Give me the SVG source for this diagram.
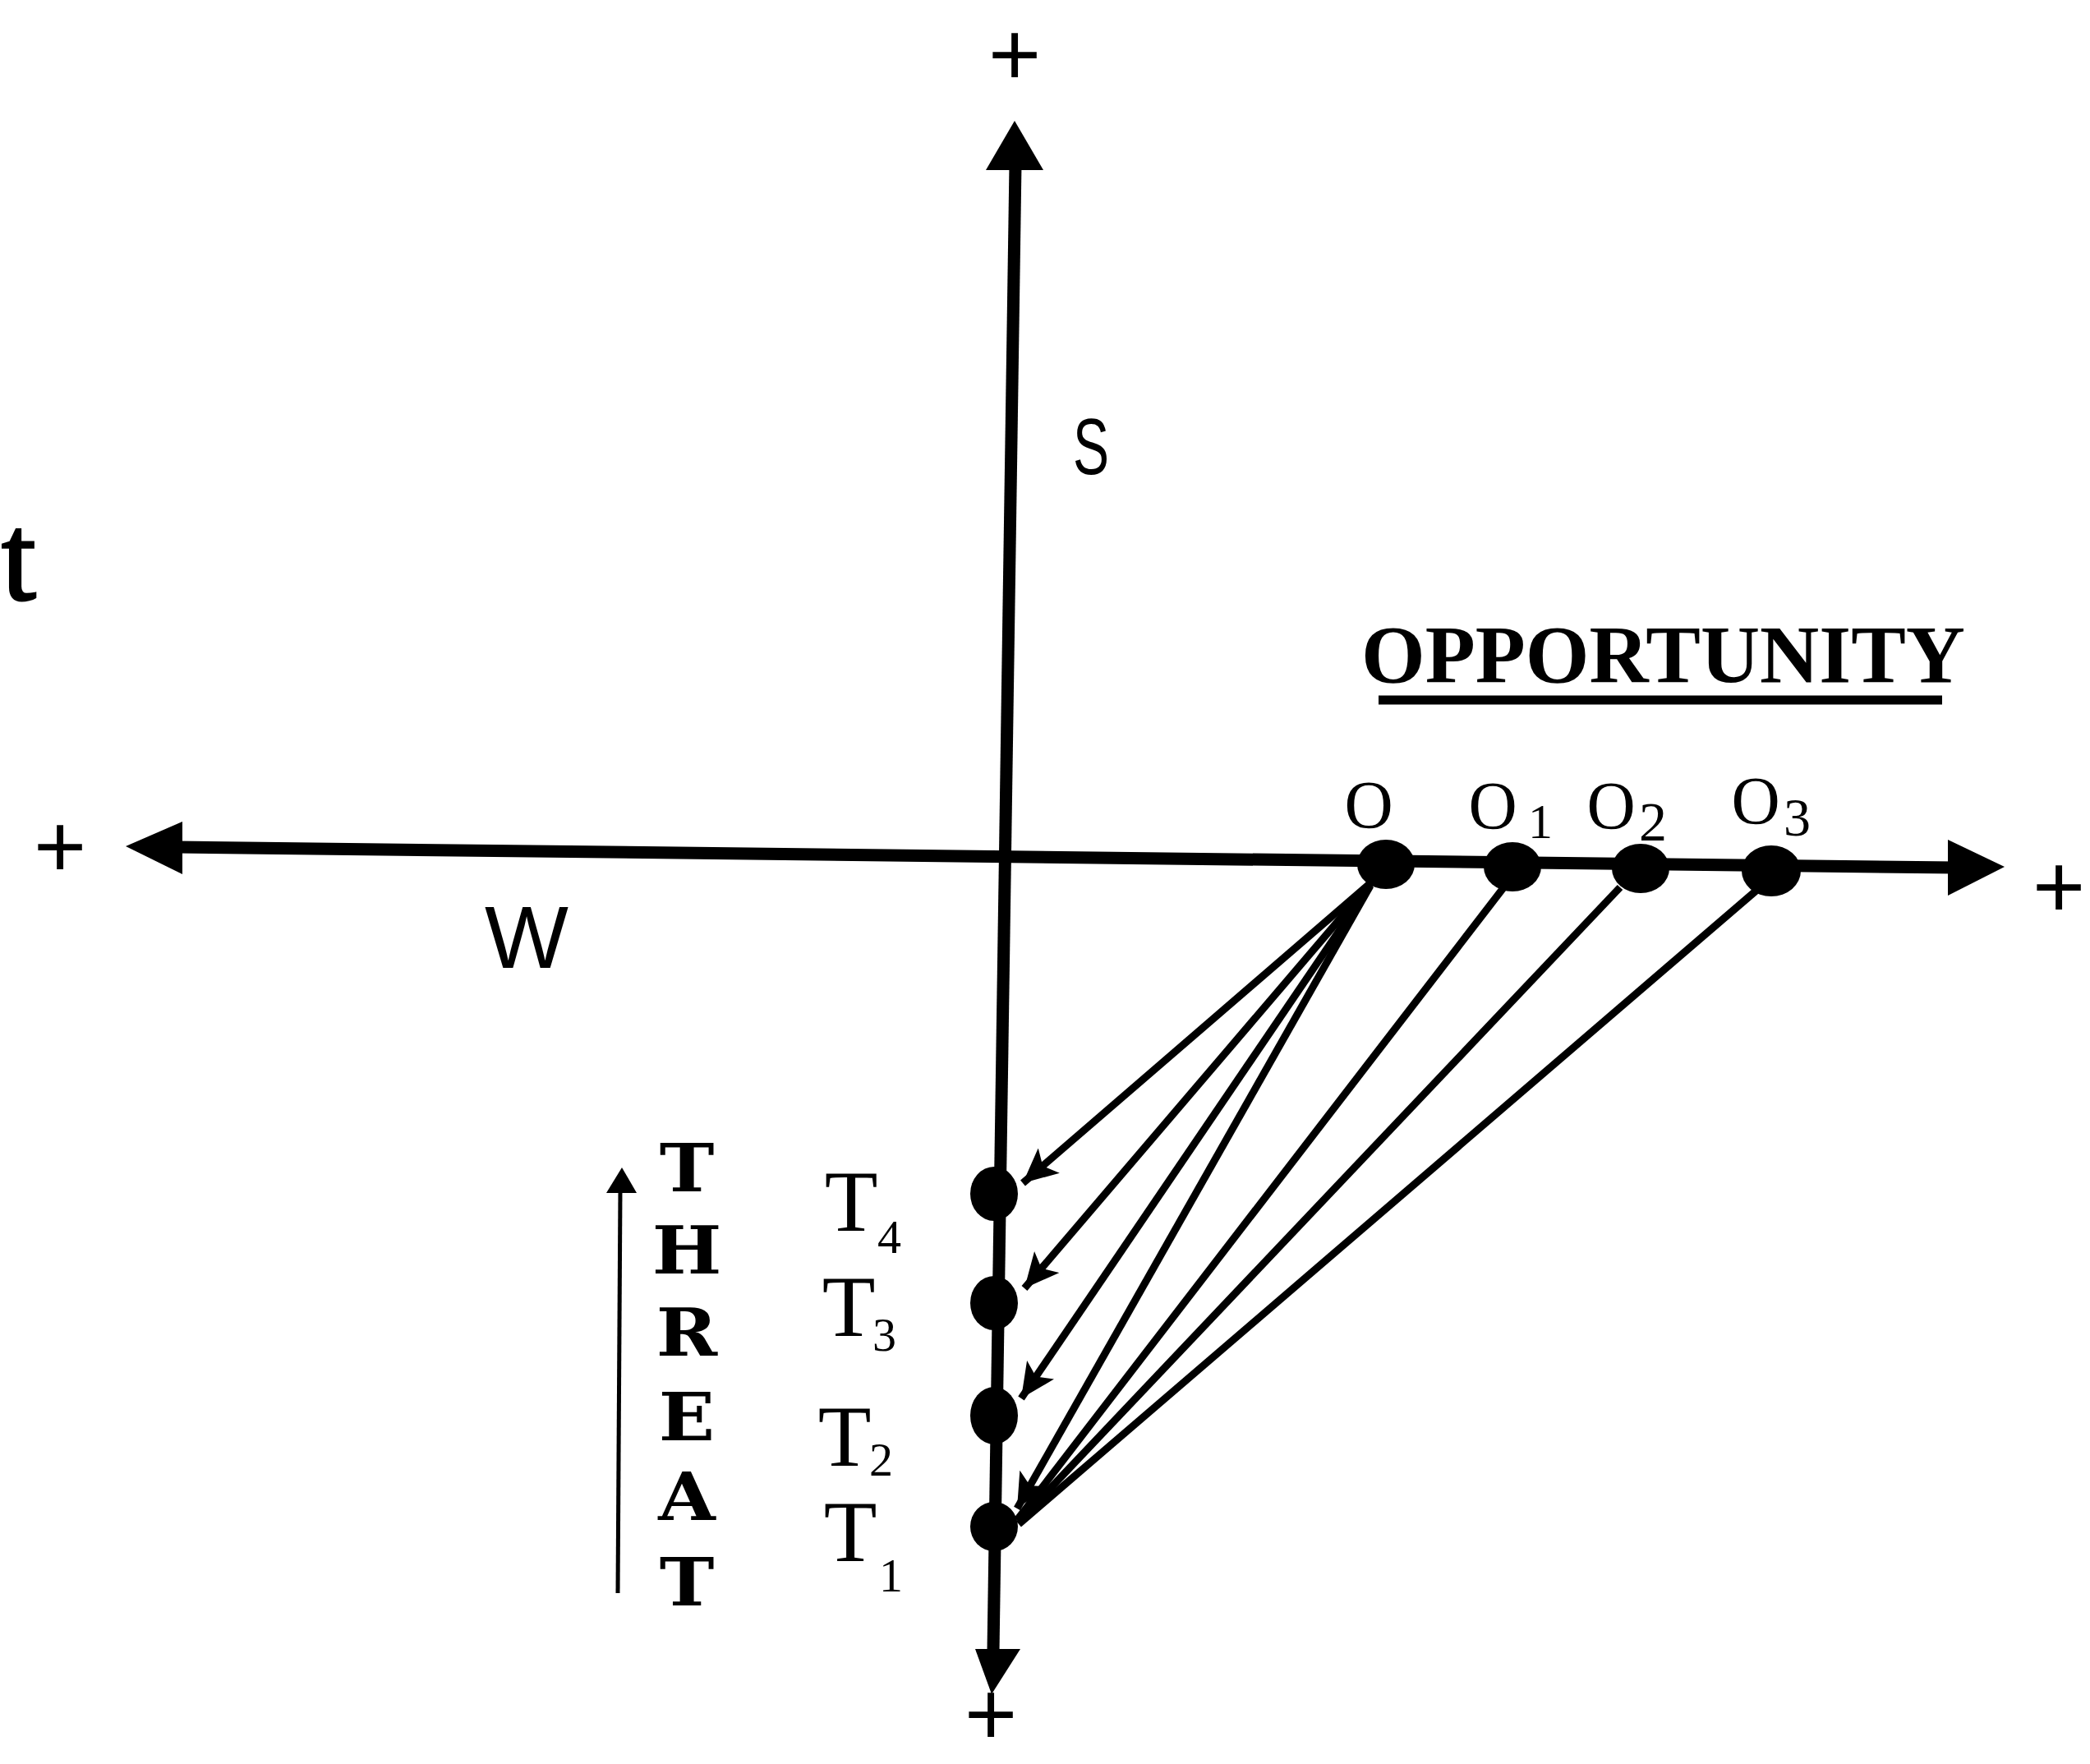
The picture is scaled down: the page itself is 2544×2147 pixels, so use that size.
<svg xmlns="http://www.w3.org/2000/svg" width="2544" height="2147" viewBox="0 0 2544 2147">
<defs>
<style>
.ax{stroke:#000;stroke-width:15;fill:none;stroke-linecap:butt}
.con{stroke:#000;stroke-width:9;fill:none}
.head{fill:#000}
.dot{fill:#000}
.plus{font-family:"Liberation Sans",Arial,sans-serif;font-size:110px;fill:#000;text-anchor:middle}
.sans{font-family:"Liberation Sans",Arial,sans-serif;fill:#000}
.serif{font-family:"Liberation Serif","Times New Roman",serif;fill:#000}
.bold{font-family:"DejaVu Serif","Liberation Serif",serif;font-weight:bold;font-size:80px;fill:#000;text-anchor:middle}
</style>
<marker id="arr" markerUnits="userSpaceOnUse" markerWidth="46" markerHeight="40" refX="42" refY="20" orient="auto" viewBox="0 0 46 40">
<path d="M0,0 L42,20 L0,40 L10,20 z" fill="#000"/>
</marker>
</defs>
<rect width="2544" height="2147" fill="#fff"/>

<g id="axes">
<line class="ax" x1="1236" y1="200" x2="1209" y2="2010"/>
<polygon class="head" points="1235,147 1270,207 1200,207"/>
<polygon class="head" points="1207,2062 1187,2007 1242,2007"/>
<line class="ax" x1="215" y1="1031" x2="2380" y2="1056"/>
<polygon class="head" points="153,1030 222,1000 222,1064"/>
<polygon class="head" points="2440,1055 2371,1022 2371,1090"/>
<text class="plus" x="1235" y="104">+</text>
<text class="plus" x="73" y="1068">+</text>
<text class="plus" x="2506" y="1117">+</text>
<text class="plus" x="1206" y="2124" font-size="100">+</text>
</g>

<g id="axis-labels">
<text class="sans" x="1306" y="577" font-size="96" textLength="44" lengthAdjust="spacingAndGlyphs">S</text>
<text class="sans" x="590" y="1178" font-size="108">W</text>
<text class="serif" x="2" y="730" font-size="150" stroke="#000" stroke-width="3">t</text>
</g>

<g id="opportunity-title">
<text class="serif" x="1657" y="830" font-size="100" font-weight="bold" textLength="735" lengthAdjust="spacingAndGlyphs">OPPORTUNITY</text>
<line x1="1678" y1="852" x2="2364" y2="852" stroke="#000" stroke-width="11"/>
</g>

<g id="threat-label">
<line x1="755" y1="1448" x2="752" y2="1939" stroke="#000" stroke-width="5"/>
<polygon class="head" points="757,1421 775,1452 738,1452"/>
<g transform="translate(836,0) scale(1.12,1)">
<text class="bold" x="0" y="1450">T</text>
<text class="bold" x="0" y="1550">H</text>
<text class="bold" x="0" y="1650">R</text>
<text class="bold" x="0" y="1753">E</text>
<text class="bold" x="0" y="1850">A</text>
<text class="bold" x="0" y="1954">T</text>
</g>
</g>

<g id="connectors">
<line class="con" x1="1668" y1="1075" x2="1245" y2="1440" marker-end="url(#arr)"/>
<line class="con" x1="1668" y1="1075" x2="1247" y2="1568" marker-end="url(#arr)"/>
<line class="con" x1="1668" y1="1077" x2="1243" y2="1702" marker-end="url(#arr)"/>
<line class="con" x1="1668" y1="1078" x2="1238" y2="1836" marker-end="url(#arr)"/>
<line class="con" x1="1832" y1="1078" x2="1238" y2="1850"/>
<line class="con" x1="1972" y1="1080" x2="1240" y2="1852"/>
<line class="con" x1="2140" y1="1082" x2="1240" y2="1855"/>
</g>

<g id="node-O">
<ellipse class="dot" cx="1687" cy="1052" rx="35" ry="30"/>
<text class="serif" x="1666" y="1007" font-size="82" text-anchor="middle">O</text>
</g>
<g id="node-O1">
<ellipse class="dot" cx="1841" cy="1055" rx="35" ry="30"/>
<text class="serif" x="1817" y="1008" font-size="82" text-anchor="middle">O</text>
<text class="serif" x="1860" y="1020" font-size="60">1</text>
</g>
<g id="node-O2">
<ellipse class="dot" cx="1997" cy="1057" rx="35" ry="30"/>
<text class="serif" x="1961" y="1008" font-size="82" text-anchor="middle">O</text>
<text class="serif" x="1995" y="1023" font-size="68">2</text>
</g>
<g id="node-O3">
<ellipse class="dot" cx="2156" cy="1060" rx="36" ry="31"/>
<text class="serif" x="2137" y="1002" font-size="82" text-anchor="middle">O</text>
<text class="serif" x="2171" y="1017" font-size="66">3</text>
</g>

<g id="node-T4">
<ellipse class="dot" cx="1210" cy="1453" rx="29" ry="33"/>
<text class="serif" x="1036" y="1498" font-size="106" text-anchor="middle">T</text>
<text class="serif" x="1068" y="1525" font-size="58">4</text>
</g>
<g id="node-T3">
<ellipse class="dot" cx="1210" cy="1586" rx="29" ry="33"/>
<text class="serif" x="1033" y="1626" font-size="106" text-anchor="middle">T</text>
<text class="serif" x="1062" y="1644" font-size="58">3</text>
</g>
<g id="node-T2">
<ellipse class="dot" cx="1210" cy="1723" rx="29" ry="35"/>
<text class="serif" x="1028" y="1784" font-size="106" text-anchor="middle">T</text>
<text class="serif" x="1058" y="1796" font-size="58">2</text>
</g>
<g id="node-T1">
<ellipse class="dot" cx="1210" cy="1858" rx="29" ry="30"/>
<text class="serif" x="1035" y="1900" font-size="106" text-anchor="middle">T</text>
<text class="serif" x="1070" y="1937" font-size="58">1</text>
</g>
</svg>
